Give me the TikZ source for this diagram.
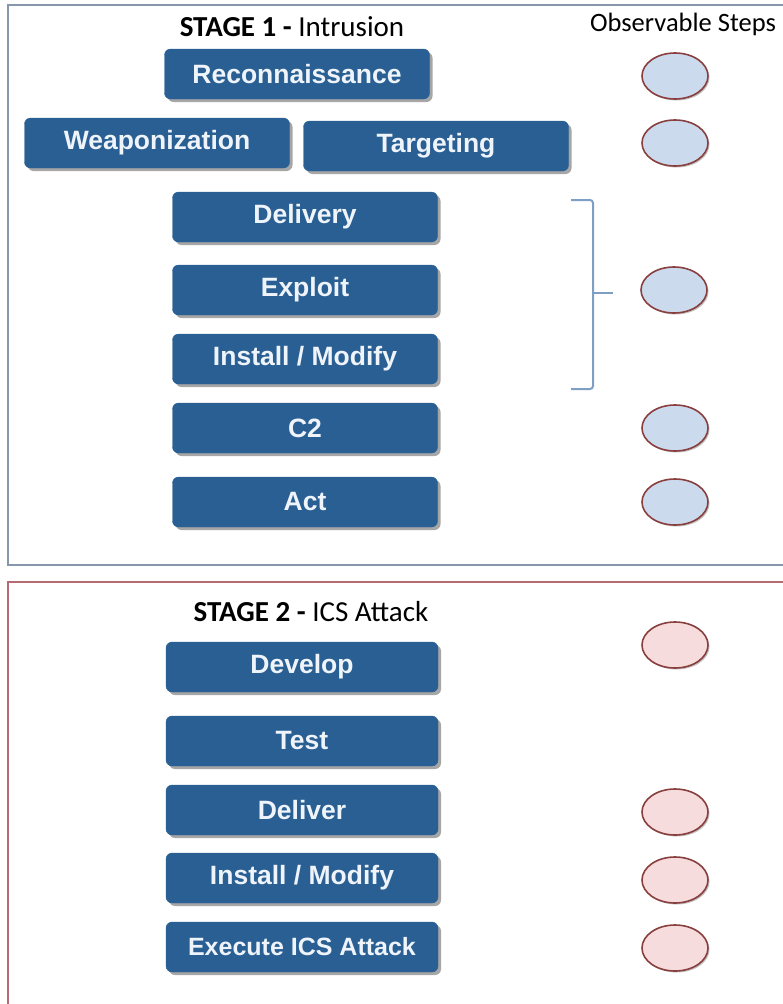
\documentclass[tikz,border=0pt]{standalone}
\usepackage{fontspec}
\setmainfont{Liberation Sans}
\newfontfamily\hdfont{Carlito}
\usetikzlibrary{shadows,shapes.geometric}
\definecolor{boxblue}{HTML}{2A5F93}
\definecolor{boxtext}{HTML}{EEF4FA}
\definecolor{frameblue}{HTML}{8797AB}
\definecolor{framered}{HTML}{B86A72}
\definecolor{ellblue}{HTML}{CCDAEE}
\definecolor{ellpink}{HTML}{F6DCDC}
\definecolor{ellrim}{HTML}{8A3F3F}
\definecolor{brackblue}{HTML}{7E9FC4}
\tikzset{
  stagebox/.style={draw=boxblue, fill=boxblue, rounded corners=6pt, minimum width=265pt, minimum height=50pt,
     text=boxtext, font=\fontsize{26.5}{30}\selectfont\bfseries, inner sep=0pt,
     drop shadow={shadow xshift=3pt, shadow yshift=-3pt, opacity=0.35, fill=black}},
  obsblue/.style={ellipse, draw=ellrim, line width=1.6pt, fill=ellblue, minimum width=66pt, minimum height=46pt, inner sep=0pt,
     drop shadow={shadow xshift=1.5pt, shadow yshift=-1.5pt, opacity=0.25, fill=black}},
  obspink/.style={obsblue, fill=ellpink},
  heading/.style={font=\hdfont\fontsize{29}{32}\selectfont, text=black, inner sep=0pt},
}
\begin{document}
\begin{tikzpicture}[x=1pt,y=-1pt]
\useasboundingbox (0,0) rectangle (783,1004);
\begin{scope}
\clip (0,0) rectangle (783,1004);
\draw[frameblue, line width=2pt] (8,5) rectangle (800,565);
\draw[framered, line width=2pt] (8,582) rectangle (800,1012);
\end{scope}

\node[heading] (h1) at (292,27) {\textbf{STAGE 1 -} Intrusion};
\node[heading, font=\hdfont\fontsize{26.5}{30}\selectfont] (obs) at (683,24) {Observable Steps};

\node[stagebox] (recon) at (297,74) {Reconnaissance};
\node[stagebox] (weap) at (157,143) {Weaponization};
\node[stagebox] (targ) at (436,146) {Targeting};
\node[stagebox] (deliv) at (305,217) {Delivery};
\node[stagebox] (expl) at (305,290) {Exploit};
\node[stagebox] (inst) at (305,359) {Install / Modify};
\node[stagebox] (ctwo) at (305,428) {C2};
\node[stagebox] (act) at (305,502) {Act};

\node[obsblue] (o1) at (675,76) {};
\node[obsblue] (o2) at (675,143) {};
\node[obsblue] (o3) at (674,290) {};
\node[obsblue] (o4) at (675,428) {};
\node[obsblue] (o5) at (675,502) {};

\coordinate (bt) at (571,200);
\coordinate (bb) at (571,389);
\coordinate (bm) at (613,293);
\draw[brackblue, line width=2pt, rounded corners=3pt] (bt) -- (593,200) -- (593,389) -- (bb);
\draw[brackblue, line width=2pt] (593,293) -- (bm);

\node[heading] (h2) at (311,612) {\textbf{STAGE 2 -} ICS Attack};

\node[stagebox, minimum width=272pt] (dev) at (302,667) {Develop};
\node[stagebox, minimum width=272pt] (test) at (302,741) {Test};
\node[stagebox, minimum width=272pt] (deliv2) at (302,810) {Deliver};
\node[stagebox, minimum width=272pt] (inst2) at (302,878) {Install / Modify};
\node[stagebox, minimum width=272pt, font=\fontsize{25}{28}\selectfont\bfseries] (exec) at (302,947) {Execute ICS Attack};

\node[obspink] (p1) at (675,645) {};
\node[obspink] (p2) at (675,812) {};
\node[obspink] (p3) at (675,880) {};
\node[obspink] (p4) at (675,948) {};
\end{tikzpicture}
\end{document}
